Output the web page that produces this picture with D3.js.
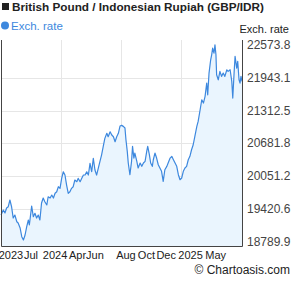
<!DOCTYPE html>
<html>
<head>
<meta charset="utf-8">
<script src="https://cdn.jsdelivr.net/npm/d3@7"></script>
<style>
  html, body { margin: 0; padding: 0; background: #fff; }
  svg { display: block; font-family: "Liberation Sans", Arial, sans-serif; }
</style>
</head>
<body>
<div id="chart"></div>
<script>
// GBP/IDR, 2 years of exchange rates
const startDate = new Date(2023, 6, 17);
const endDate = new Date(2025, 6, 17);

// day offset from startDate
const days = [
  0, 7, 12, 17, 22, 27, 32, 37, 42, 48, 52, 58, 63, 68, 73, 78, 83, 86, 93, 98,
  103, 108, 113, 118, 123, 128, 133, 139, 143, 149, 154, 159, 164, 169, 174, 179, 184, 189, 194, 199,
  204, 209, 214, 219, 224, 230, 234, 240, 245, 250, 255, 260, 265, 270, 275, 280, 285, 290, 295, 300,
  305, 310, 315, 321, 325, 331, 336, 341, 346, 351, 356, 361, 366, 371, 376, 379, 383, 386, 391, 396,
  399, 403, 406, 412, 416, 422, 427, 432, 437, 442, 445, 450, 454, 459, 462, 467, 472, 477, 482, 487,
  492, 497, 503, 507, 513, 518, 523, 528, 533, 538, 543, 548, 553, 558, 563, 568, 573, 578, 583, 588,
  594, 598, 604, 609, 614, 619, 624, 627, 631, 636, 639, 642, 646, 649, 652, 654, 659, 664, 669, 674,
  679, 685, 689, 695, 700, 703, 707, 710, 715, 718, 722, 725, 728, 731
];

const rates = [
  19300, 19396, 19339, 19435, 19460, 19589, 19460, 19242, 19300, 19171, 19146, 19050, 18882, 18819, 18915, 19075, 19204, 19108, 19473, 19267,
  19333, 19242, 19300, 19204, 19531, 19627, 19556, 19493, 19652, 19627, 19685, 19627, 19718, 19748, 19845, 19814, 20006, 20133, 20070, 19877,
  19718, 19748, 19814, 19845, 19974, 19941, 20006, 19941, 20006, 20070, 20070, 20133, 20070, 20295, 20133, 20391, 20166, 20070, 20199, 20326,
  20455, 20615, 20776, 20873, 20807, 20903, 20840, 20807, 20711, 20807, 20873, 21013, 21026, 21007, 20975, 20749, 20526, 20301, 20076, 20334,
  20622, 20397, 20493, 20334, 20205, 20301, 20237, 20301, 20334, 20526, 20622, 20461, 20301, 20237, 20364, 20493, 20397, 20268, 20205, 20141,
  19949, 20172, 20237, 20301, 20397, 20430, 20364, 20301, 20237, 20076, 19979, 20012, 20141, 20205, 20237, 20364, 20430, 20557, 20653, 20815,
  21007, 21103, 21327, 21519, 21456, 21585, 21841, 21615, 22033, 22289, 22385, 22514, 22418, 22578, 22385, 22000, 21904, 22066, 21970, 22033,
  21970, 22097, 22066, 22097, 21873, 21552, 22033, 22355, 22129, 22258, 21904, 21841, 21970, 21873
];

const yTicks = [18789.9, 19420.6, 20051.2, 20681.8, 21312.5, 21943.1, 22573.8];

// x axis labels and the day offsets where they sit
const xLabels = ['2023', 'Jul', '2024', 'Apr', 'Jun', 'Aug', 'Oct', 'Dec', '2025', 'May'];
const xLabelDays = [30, 91, 164, 232, 285, 379, 441, 501, 575, 651];

// vertical grid lines
const gridDays = [182, 365, 547];

const width = 295, height = 288;
const plot = { left: 1, right: 242, top: 40, bottom: 246 };

const svg = d3.select('#chart')
  .append('svg')
  .attr('width', width)
  .attr('height', height);

const data = days.map((d, i) => ({ date: d3.timeDay.offset(startDate, d), value: rates[i] }));

const x = d3.scaleTime()
  .domain([startDate, endDate])
  .range([plot.left, plot.right]);

const y = d3.scaleLinear()
  .domain([yTicks[0], yTicks[yTicks.length - 1]])
  .range([plot.bottom - 4.5, plot.top + 5]);

// grid
svg.append('g')
  .selectAll('line')
  .data(yTicks.slice(1, -1))
  .enter()
  .append('line')
  .attr('x1', plot.left)
  .attr('x2', plot.right)
  .attr('y1', d => Math.round(y(d)) + 0.5)
  .attr('y2', d => Math.round(y(d)) + 0.5)
  .attr('stroke', '#e6e6e6')
  .attr('stroke-width', 1);

svg.append('g')
  .selectAll('line')
  .data(gridDays)
  .enter()
  .append('line')
  .attr('x1', d => Math.round(x(d3.timeDay.offset(startDate, d))) + 0.5)
  .attr('x2', d => Math.round(x(d3.timeDay.offset(startDate, d))) + 0.5)
  .attr('y1', plot.top)
  .attr('y2', plot.bottom)
  .attr('stroke', '#e6e6e6')
  .attr('stroke-width', 1);

// area + line
const area = d3.area()
  .x(d => x(d.date))
  .y0(plot.bottom)
  .y1(d => y(d.value));

const line = d3.line()
  .x(d => x(d.date))
  .y(d => y(d.value));

svg.append('path')
  .datum(data)
  .attr('d', area)
  .attr('fill', '#eaf5fe');

svg.append('path')
  .datum(data)
  .attr('d', line)
  .attr('fill', 'none')
  .attr('stroke', '#3d88de')
  .attr('stroke-width', 1.2)
  .attr('stroke-linejoin', 'round');

// frame: left, bottom, right
svg.append('path')
  .attr('d', `M${plot.left + 0.5},${plot.top}V${plot.bottom + 0.5}H${plot.right + 0.5}V${plot.top}`)
  .attr('fill', 'none')
  .attr('stroke', '#444')
  .attr('stroke-width', 1);

// y labels on the right
svg.append('g')
  .selectAll('text')
  .data(yTicks)
  .enter()
  .append('text')
  .attr('x', plot.right + 5)
  .attr('y', d => y(d))
  .attr('dy', '0.35em')
  .attr('fill', '#444')
  .attr('font-size', '12px')
  .text(d => d.toFixed(1));

// x labels
svg.append('g')
  .selectAll('text')
  .data(xLabels)
  .enter()
  .append('text')
  .attr('x', (d, i) => x(d3.timeDay.offset(startDate, xLabelDays[i])))
  .attr('y', 258.5)
  .attr('text-anchor', 'middle')
  .attr('fill', '#222')
  .attr('font-size', '11px')
  .text(d => d);

// title + legend
svg.append('rect')
  .attr('x', 2).attr('y', 3)
  .attr('width', 7).attr('height', 7)
  .attr('fill', '#222');

svg.append('text')
  .attr('x', 12).attr('y', 11)
  .attr('font-size', '11.75px')
  .attr('font-weight', 'bold')
  .attr('fill', '#222')
  .text('British Pound / Indonesian Rupiah (GBP/IDR)');

svg.append('circle')
  .attr('cx', 5).attr('cy', 25.5)
  .attr('r', 4)
  .attr('fill', '#3d88de');

svg.append('text')
  .attr('x', 11).attr('y', 29.5)
  .attr('font-size', '11.5px')
  .attr('fill', '#3d88de')
  .text('Exch. rate');

svg.append('text')
  .attr('x', 289).attr('y', 33)
  .attr('text-anchor', 'end')
  .attr('font-size', '11px')
  .attr('fill', '#222')
  .text('Exch. rate');

svg.append('text')
  .attr('x', 290).attr('y', 274)
  .attr('text-anchor', 'end')
  .attr('font-size', '12px')
  .attr('fill', '#222')
  .text('© Chartoasis.com');
</script>
</body>
</html>
